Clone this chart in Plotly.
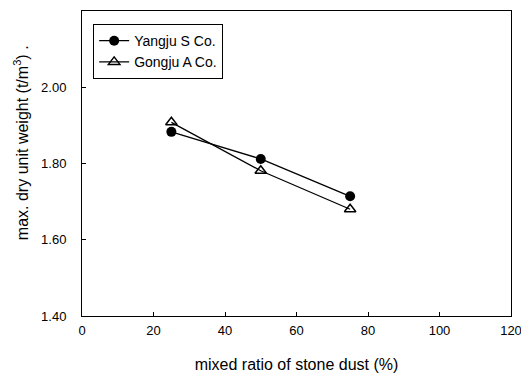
import plotly.graph_objects as go

ratio = [25, 50, 75]
yangju = [1.883, 1.812, 1.714]
gongju = [1.908, 1.781, 1.680]
x_ticks = [0, 20, 40, 60, 80, 100, 120]
y_ticks = [1.40, 1.60, 1.80, 2.00, 2.20]

fig = go.Figure()
fig.add_trace(go.Scatter(x=ratio, y=yangju, mode="lines+markers", name="Yangju S Co.",
                         line=dict(color="black", width=1.3),
                         marker=dict(symbol="circle", size=10, color="black")))
fig.add_trace(go.Scatter(x=ratio, y=gongju, mode="lines+markers", name="Gongju A Co.",
                         line=dict(color="black", width=1.3),
                         marker=dict(symbol="triangle-up-open", size=10, color="black",
                                     line=dict(width=1.5, color="black"))))

fam = "Liberation Sans, Arial"
# page body has an 8px margin, so figure is 8px smaller and margins shifted
fig.update_layout(
    width=521, height=372,
    margin=dict(l=74, r=18, t=3, b=64),
    paper_bgcolor="white", plot_bgcolor="white",
    font=dict(family=fam, size=13, color="black"),
    showlegend=True,
    legend=dict(x=0.026, y=0.957, xanchor="left", yanchor="top",
                bordercolor="black", borderwidth=1, bgcolor="white",
                font=dict(family=fam, size=14, color="black"),
                tracegroupgap=0, itemwidth=30),
    xaxis=dict(range=[0, 120], tickvals=x_ticks, ticktext=[str(v) for v in x_ticks],
               ticks="inside", ticklen=4, tickcolor="black",
               showline=True, linecolor="black", linewidth=1, mirror=True,
               showgrid=False, zeroline=False, automargin=False, ticklabelstandoff=2,
               title=dict(text="mixed ratio of stone dust (%)", standoff=22,
                          font=dict(size=16)),
               tickfont=dict(size=13)),
    yaxis=dict(range=[1.40, 2.20], tickvals=y_ticks, ticktext=[f"{v:.2f}" for v in y_ticks],
               ticks="inside", ticklen=4, tickcolor="black",
               showline=True, linecolor="black", linewidth=1, mirror=True,
               showgrid=False, zeroline=False, ticklabelstandoff=12, automargin=False,
               tickfont=dict(size=13)),
    annotations=[dict(text="max. dry unit weight (t/m<sup>3</sup>) .", textangle=-90,
                      xref="paper", yref="paper", x=-0.142, y=0.567,
                      xanchor="center", yanchor="middle", showarrow=False,
                      font=dict(family=fam, size=16, color="black"))],
)
fig.write_html("out.html")
